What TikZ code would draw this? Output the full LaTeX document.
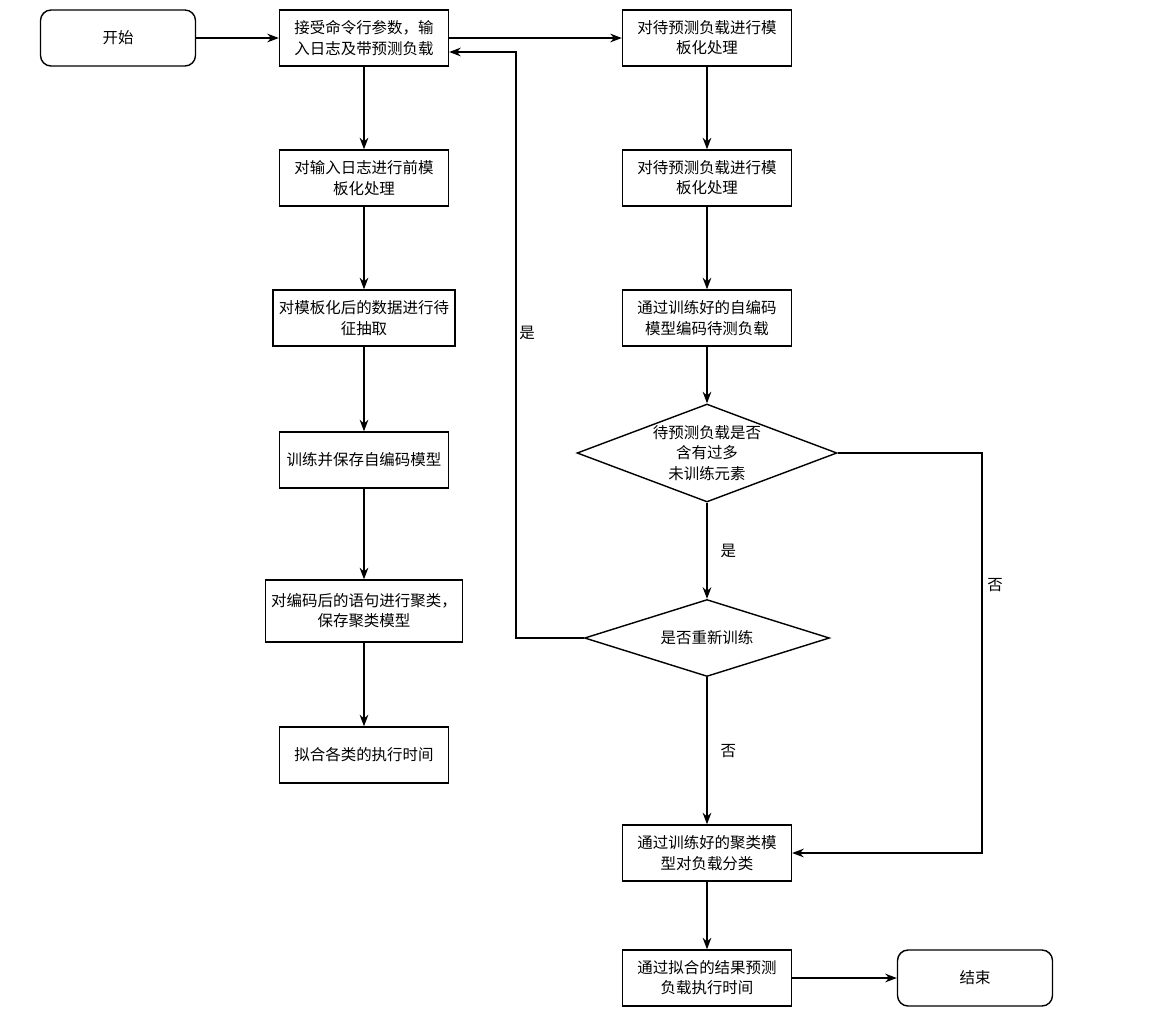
\documentclass[tikz,border=0pt]{standalone}
\usepackage{fontspec}
\setmainfont{Noto Sans CJK SC}
\usetikzlibrary{shapes,arrows,arrows.meta}
\usetikzlibrary{positioning}
\tikzset{box/.style={draw,thick,minimum width=3.38cm,minimum height=1.12cm,align=center,font=\fontsize{8.8}{11.5}\selectfont},
term/.style={box,rounded corners=6pt,minimum width=3.1cm},
dec/.style={draw,thick,diamond,aspect=2.6,inner sep=0pt,align=center,font=\fontsize{8.8}{11.5}\selectfont},
lab/.style={font=\fontsize{8.8}{11.5}\selectfont}
}

\begin{document}
\begin{tikzpicture}[> = Stealth,x=0.02cm,y=-0.02cm]
            \useasboundingbox (0,0) rectangle (1161,1012);
            \node[term] (start) at (118,38) {开始};
            \node[box] (args) at (364,38) {接受命令行参数，输\\入日志及带预测负载};
            \node[box] (pre) at (364,178) {对输入日志进行前模\\板化处理};
            \node[box] (feat) at (364,318) {对模板化后的数据进行待\\征抽取};
            \node[box] (train) at (364,460) {训练并保存自编码模型};
            \node[box,minimum height=1.24cm] (clus) at (364,611) {对编码后的语句进行聚类，\\保存聚类模型};
            \node[box] (fit) at (364,755) {拟合各类的执行时间};
            \node[box] (tmp1) at (707,38) {对待预测负载进行模\\板化处理};
            \node[box] (tmp2) at (707,178) {对待预测负载进行模\\板化处理};
            \node[box] (enc) at (707,318) {通过训练好的自编码\\模型编码待测负载};
            \node[dec,minimum width=5.2cm,minimum height=1.96cm] (d1) at (707,453) {待预测负载是否\\含有过多\\未训练元素};
            \node[dec,minimum width=4.9cm,minimum height=1.54cm] (d2) at (707,638) {是否重新训练};
            \node[box] (cls) at (707,853) {通过训练好的聚类模\\型对负载分类};
            \node[box] (pred) at (707,978) {通过拟合的结果预测\\负载执行时间};
            \node[term] (end) at (975,978) {结束};
            \coordinate (c1) at (516,52);
            \coordinate (c2) at (982,853);
            \path[->,thick] (start) edge (args)
                (args) edge (tmp1)
                (args) edge (pre)
                (pre) edge (feat)
                (feat) edge (train)
                (train) edge (clus)
                (clus) edge (fit)
                (tmp1) edge (tmp2)
                (tmp2) edge (enc)
                (enc) edge (d1)
                (d1) edge node[lab,right=4pt] {是} (d2)
                (d2) edge node[lab,right=4pt] {否} (cls)
                (cls) edge (pred)
                (pred) edge (end);
            \draw[->,thick] (d2.west) -| (c1) -- (args.east |- c1);
            \draw[->,thick] (d1.east) -| (c2) -- (cls.east);
            \node[lab] (yes) at (527,333) {是};
            \node[lab] (no) at (995,585) {否};
        \end{tikzpicture}
\end{document}
